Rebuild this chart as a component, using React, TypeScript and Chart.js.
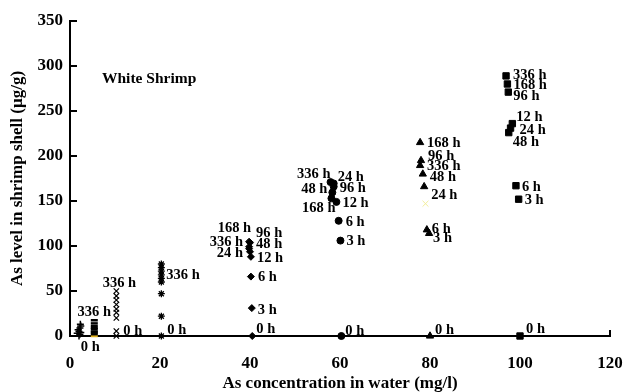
import React, { useEffect, useRef } from 'react';
import { Chart, registerables } from 'chart.js';

Chart.register(...registerables);

// ---- data (time order: 0, 3, 6, 12, 24, 48, 96, 168, 336 h) ----
const timeLabels = ['0 h', '3 h', '6 h', '12 h', '24 h', '48 h', '96 h', '168 h', '336 h'];

const conc1X = [2.0, 2.2, 1.6, 2.4, 2.0, 1.8, 2.2, 2.4, 2.3];
const conc1Y = [0, 2, 3, 4, 5, 7, 9, 11, 13];

const conc5X = [5.4, 5.4, 5.4, 5.4, 5.4, 5.4, 5.4, 5.4, 5.4];
const conc5Y = [0, 2, 4, 5, 7.5, 9, 11, 14, 17.5];

const conc10X = [10.3, 10.3, 10.3, 10.3, 10.3, 10.3, 10.3, 10.3, 10.3];
const conc10Y = [0, 5.5, 20, 26, 30, 35, 40, 44.5, 50];

const conc20X = [20.3, 20.3, 20.3, 20.3, 20.3, 20.3, 20.3, 20.3, 20.3];
const conc20Y = [0, 22, 47, 60, 64, 68, 72, 76, 80];

const conc40X = [40.5, 40.4, 40.2, 40.2, 40.0, 39.8, 40.0, 39.8, 39.8];
const conc40Y = [0, 31, 66, 88, 93.6, 97, 103.7, 104.8, 99.2];

const conc60X = [60.3, 60.1, 59.7, 59.2, 58.6, 58.3, 58.6, 58.1, 57.9];
const conc60Y = [0, 106, 128, 149, 169.5, 159.5, 166, 153, 171];

const conc80X = [80.0, 79.8, 79.3, 79.0, 78.7, 78.4, 78.0, 77.8, 77.8];
const conc80Y = [0, 114, 118, 147, 166, 180, 195, 215, 189.5];

const conc100X = [100.0, 99.7, 99.1, 98.3, 97.9, 97.5, 97.4, 97.2, 96.9];
const conc100Y = [0, 152, 167, 236, 231, 226, 271, 280, 289];

const yTicks = [0, 50, 100, 150, 200, 250, 300, 350];
const xTicks = [0, 20, 40, 60, 80, 100, 120];

const chartTitle = 'White Shrimp';
const xTitle = 'As concentration in water (mg/l)';
const yTitle = 'As level in shrimp shell (\u00b5g/g)';

// ---- label layout: [time index, align, dx, dy] relative to the point ----
type Lab = [number, 'l' | 'r' | 'c', number, number];
const labels1: Lab[] = [];
const labels5: Lab[] = [[8, 'c', 0, -9], [0, 'c', -4, 10]];
const labels10: Lab[] = [[8, 'c', 3, -9], [0, 'l', 7, -6]];
const labels20: Lab[] = [[8, 'l', 5, 10], [0, 'l', 6, -7]];
const labels40: Lab[] = [[7, 'r', 2, -14], [6, 'l', 6, -10], [8, 'r', -6, -6], [5, 'l', 7, -6], [4, 'r', -7, 0], [3, 'l', 6, 0], [2, 'l', 7, 0], [1, 'l', 6, 1], [0, 'l', 4, -8]];
const labels60: Lab[] = [[8, 'r', 0, -9], [4, 'l', 4, -7], [5, 'r', -5, -4], [6, 'l', 6, 1], [7, 'r', 4, 9], [3, 'l', 6, 0], [2, 'l', 7, 0], [1, 'l', 6, 0], [0, 'l', 4, -6]];
const labels80: Lab[] = [[7, 'l', 7, 0], [6, 'l', 7, -5], [8, 'l', 7, 0], [5, 'l', 7, 2], [4, 'l', 7, 8], [2, 'l', 5, -2], [1, 'l', 4, 4], [0, 'l', 5, -7]];
const labels100: Lab[] = [[8, 'l', 7, -2], [7, 'l', 6, 0], [6, 'l', 5, 3], [3, 'l', 4, -7], [4, 'l', 9, 1], [5, 'l', 4, 9], [2, 'l', 6, 0], [1, 'l', 6, 0], [0, 'l', 6, -8]];

const FONT = '"Liberation Serif", "Times New Roman", serif';

const zip = (xs: number[], ys: number[]) => xs.map((x, i) => ({ x, y: ys[i] }));

const series = [
  { xs: conc1X, ys: conc1Y, style: 'cross', r: 3.5, bw: 1.5, labs: labels1 },
  { xs: conc5X, ys: conc5Y, style: 'line', r: 3.5, bw: 2.5, labs: labels5 },
  { xs: conc10X, ys: conc10Y, style: 'crossRot', r: 3.8, bw: 1.2, labs: labels10 },
  { xs: conc20X, ys: conc20Y, style: 'star', r: 3.5, bw: 1.3, labs: labels20 },
  { xs: conc40X, ys: conc40Y, style: 'rectRot', r: 3.5, bw: 1, labs: labels40 },
  { xs: conc60X, ys: conc60Y, style: 'circle', r: 3.5, bw: 1, labs: labels60 },
  { xs: conc80X, ys: conc80Y, style: 'triangle', r: 4.2, bw: 1, labs: labels80 },
  { xs: conc100X, ys: conc100Y, style: 'rect', r: 4.5, bw: 1, labs: labels100 },
];

const annotPlugin = {
  id: 'annot',
  afterDraw(chart: any) {
    const ctx = chart.ctx;
    const ys = chart.scales.y;
    const xs = chart.scales.x;
    const area = chart.chartArea;
    ctx.save();
    ctx.strokeStyle = '#000';
    ctx.lineWidth = 2;
    // inward ticks on y axis
    yTicks.forEach((v) => {
      const py = Math.round(ys.getPixelForValue(v));
      ctx.beginPath();
      ctx.moveTo(area.left, py);
      ctx.lineTo(area.left + 7, py);
      ctx.stroke();
    });
    // end tick on x axis
    const px = Math.round(xs.getPixelForValue(xTicks[xTicks.length - 1]));
    ctx.beginPath();
    ctx.moveTo(px, area.bottom);
    ctx.lineTo(px, area.bottom - 6);
    ctx.stroke();

    // chart title
    ctx.fillStyle = '#000';
    ctx.font = `bold 15.5px ${FONT}`;
    ctx.textAlign = 'left';
    ctx.textBaseline = 'alphabetic';
    ctx.fillText(chartTitle, 102, 83);

    // point labels
    ctx.font = `bold 14.5px ${FONT}`;
    series.forEach((s, di) => {
      const meta = chart.getDatasetMeta(di);
      s.labs.forEach(([idx, al, dx, dy]) => {
        const el = meta.data[idx];
        if (!el) return;
        ctx.textAlign = al === 'l' ? 'left' : al === 'r' ? 'right' : 'center';
        ctx.fillText(timeLabels[idx], el.x + dx, el.y + dy + 4.8);
      });
    });
    ctx.restore();
  },
};

export default function App() {
  const ref = useRef<HTMLCanvasElement | null>(null);
  useEffect(() => {
    document.body.style.margin = '0';
    if (!ref.current) return;
    const datasets = series.map((s, di) => ({
      label: 'c' + di,
      data: zip(s.xs, s.ys),
      showLine: false,
      clip: false,
      pointStyle: (c: any) => {
        if (di === 6 && c.dataIndex === 3) return 'crossRot';
        return s.style;
      },
      pointRadius: s.r,
      pointHoverRadius: s.r,
      pointBorderWidth: s.bw,
      pointBackgroundColor: '#000',
      pointBorderColor: (c: any) => {
        if (di === 6 && c.dataIndex === 3) return '#f2ee9a';
        if (di === 1 && c.dataIndex === 0) return '#e2b21c';
        return '#000';
      },
    }));
    const chart = new Chart(ref.current, {
      type: 'scatter',
      data: { datasets },
      plugins: [annotPlugin],
      options: {
        animation: false,
        responsive: false,
        maintainAspectRatio: false,
        events: [],
        layout: { padding: { top: 21, right: 14, left: 0, bottom: 0 } },
        plugins: { legend: { display: false }, tooltip: { enabled: false }, title: { display: false } },
        scales: {
          x: {
            type: 'linear',
            min: 0,
            max: 120,
            afterFit: (s: any) => { s.height = 56; s.paddingLeft = 0; s.paddingRight = 0; },
            afterBuildTicks: (s: any) => { s.ticks = xTicks.map((v) => ({ value: v })); },
            grid: { display: false, drawTicks: false },
            border: { display: true, color: '#000', width: 2 },
            ticks: { color: '#000', padding: 17, font: { family: FONT, size: 17, weight: 'bold' } },
            title: { display: true, text: xTitle, color: '#000', padding: { top: 0, bottom: 0 }, font: { family: FONT, size: 17, weight: 'bold', lineHeight: 1 } },
          },
          y: {
            type: 'linear',
            min: 0,
            max: 350,
            afterFit: (s: any) => { s.width = 70; s.paddingTop = 0; s.paddingBottom = 0; },
            afterBuildTicks: (s: any) => { s.ticks = yTicks.map((v) => ({ value: v })); },
            grid: { display: false, drawTicks: false },
            border: { display: true, color: '#000', width: 2 },
            ticks: { color: '#000', padding: 7, font: { family: FONT, size: 17, weight: 'bold' } },
            title: { display: true, text: yTitle, color: '#000', padding: { top: 9, bottom: 0 }, font: { family: FONT, size: 17, weight: 'bold', lineHeight: 1 } },
          },
        },
      } as any,
    });
    return () => chart.destroy();
  }, []);
  return (
    <div style={{ width: 624, height: 392 }}>
      <canvas ref={ref} width={624} height={392} />
    </div>
  );
}
